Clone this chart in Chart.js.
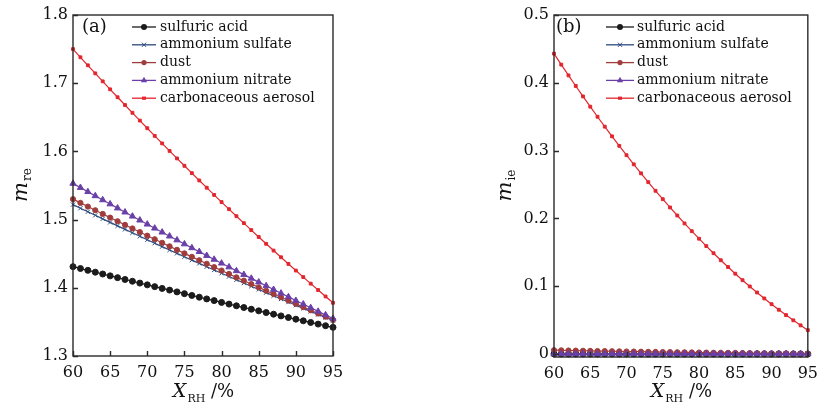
<!DOCTYPE html>
<html>
<head>
<meta charset="utf-8">
<script src="https://cdn.jsdelivr.net/npm/chart.js@4.4.1/dist/chart.umd.min.js"></script>
<style>
  html, body { margin: 0; padding: 0; background: #fff; }
  #wrap { position: relative; width: 825px; height: 406px; overflow: hidden; }
  .panel { position: absolute; top: 0; }
</style>
</head>
<body>
<div id="wrap">
  <div class="panel" style="left:0;width:412px;height:406px"><canvas id="chartA" width="412" height="406"></canvas></div>
  <div class="panel" style="left:412px;width:413px;height:406px"><canvas id="chartB" width="413" height="406"></canvas></div>
</div>
<script>
// relative humidity (%)
const rh = [60,61,62,63,64,65,66,67,68,69,70,71,72,73,74,75,76,77,78,79,80,81,82,83,84,85,86,87,88,89,90,91,92,93,94,95];
const xTicks = [60,65,70,75,80,85,90,95];
const reTicks = [1.3,1.4,1.5,1.6,1.7,1.8];
const imTicks = [0,0.1,0.2,0.3,0.4,0.5];

const names = ['sulfuric acid','ammonium sulfate','dust','ammonium nitrate','carbonaceous aerosol'];

// (a) real part m_re
const reSulfuric   = [1.4310,1.4283,1.4256,1.4229,1.4202,1.4175,1.4149,1.4122,1.4096,1.4069,1.4043,1.4017,1.3991,1.3966,1.3940,1.3914,1.3888,1.3862,1.3837,1.3812,1.3786,1.3761,1.3736,1.3711,1.3686,1.3662,1.3637,1.3613,1.3588,1.3564,1.3540,1.3516,1.3492,1.3468,1.3444,1.3420];
const reAmmSulfate = [1.5220,1.5167,1.5115,1.5063,1.5011,1.4959,1.4908,1.4857,1.4806,1.4755,1.4704,1.4654,1.4604,1.4554,1.4505,1.4455,1.4406,1.4358,1.4309,1.4261,1.4213,1.4165,1.4117,1.4070,1.4023,1.3976,1.3929,1.3883,1.3836,1.3791,1.3745,1.3699,1.3654,1.3609,1.3565,1.3520];
const reDust       = [1.5300,1.5245,1.5191,1.5137,1.5083,1.5029,1.4976,1.4923,1.4870,1.4817,1.4764,1.4712,1.4660,1.4608,1.4557,1.4505,1.4454,1.4404,1.4353,1.4303,1.4253,1.4203,1.4153,1.4104,1.4055,1.4006,1.3957,1.3909,1.3861,1.3813,1.3765,1.3717,1.3670,1.3623,1.3577,1.3530];
const reAmmNitrate = [1.5530,1.5469,1.5408,1.5348,1.5288,1.5228,1.5168,1.5109,1.5049,1.4991,1.4932,1.4873,1.4815,1.4757,1.4700,1.4642,1.4585,1.4529,1.4472,1.4416,1.4360,1.4304,1.4248,1.4193,1.4138,1.4083,1.4029,1.3974,1.3920,1.3867,1.3813,1.3760,1.3707,1.3654,1.3602,1.3550];
const reCarbon     = [1.7500,1.7380,1.7262,1.7144,1.7027,1.6910,1.6794,1.6680,1.6566,1.6452,1.6340,1.6228,1.6117,1.6007,1.5897,1.5789,1.5681,1.5574,1.5468,1.5362,1.5257,1.5153,1.5050,1.4948,1.4846,1.4745,1.4645,1.4546,1.4448,1.4350,1.4253,1.4157,1.4061,1.3967,1.3873,1.3780];

// (b) imaginary part m_ie
const imSulfuric   = [0,0,0,0,0,0,0,0,0,0,0,0,0,0,0,0,0,0,0,0,0,0,0,0,0,0,0,0,0,0,0,0,0,0,0,0];
const imAmmSulfate = [0,0,0,0,0,0,0,0,0,0,0,0,0,0,0,0,0,0,0,0,0,0,0,0,0,0,0,0,0,0,0,0,0,0,0,0];
const imDust       = [0.0055,0.0053,0.0051,0.0049,0.0047,0.0045,0.0043,0.0042,0.0040,0.0038,0.0036,0.0035,0.0033,0.0031,0.0030,0.0028,0.0027,0.0025,0.0024,0.0022,0.0021,0.0020,0.0018,0.0017,0.0016,0.0015,0.0014,0.0012,0.0011,0.0010,0.0009,0.0008,0.0007,0.0006,0.0005,0.0004];
const imAmmNitrate = [0,0,0,0,0,0,0,0,0,0,0,0,0,0,0,0,0,0,0,0,0,0,0,0,0,0,0,0,0,0,0,0,0,0,0,0];
const imCarbon     = [0.4430,0.4268,0.4109,0.3953,0.3799,0.3648,0.3499,0.3353,0.3210,0.3070,0.2932,0.2797,0.2664,0.2534,0.2407,0.2283,0.2161,0.2042,0.1925,0.1811,0.1700,0.1591,0.1486,0.1382,0.1282,0.1184,0.1088,0.0996,0.0906,0.0819,0.0734,0.0652,0.0573,0.0496,0.0422,0.0351];

const colors  = ['#1b1b1b','#2c4b7e','#a13c3c','#6a40a8','#e2262e'];
const markers = ['circle','crossRot','circle','triangle','rect'];
const sizes   = [3,3,2.6,3.6,2];

const SERIF = '"DejaVu Serif", serif';

function drawMarker(ctx, style, x, y, r, color) {
  ctx.fillStyle = color;
  ctx.strokeStyle = color;
  ctx.beginPath();
  if (style === 'circle') {
    ctx.arc(x, y, r, 0, Math.PI * 2);
    ctx.fill();
  } else if (style === 'triangle') {
    ctx.moveTo(x, y - r);
    ctx.lineTo(x + r * 0.87, y + r * 0.5);
    ctx.lineTo(x - r * 0.87, y + r * 0.5);
    ctx.closePath();
    ctx.fill();
  } else if (style === 'crossRot') {
    ctx.lineWidth = 1;
    ctx.moveTo(x - r * 0.7, y - r * 0.7); ctx.lineTo(x + r * 0.7, y + r * 0.7);
    ctx.moveTo(x + r * 0.7, y - r * 0.7); ctx.lineTo(x - r * 0.7, y + r * 0.7);
    ctx.stroke();
  } else {
    ctx.fillRect(x - r, y - r * 0.8, r * 2, r * 1.6);
  }
}

// frame, inward ticks, panel letter, legend and axis titles
function panelPlugin(cfg) {
  return {
    id: 'panel',
    afterDatasetsDraw(chart) {
      const { ctx, chartArea: a, scales } = chart;
      ctx.save();
      ctx.strokeStyle = '#2a2a2a';
      ctx.lineWidth = 1.4;
      ctx.strokeRect(a.left, a.top, a.right - a.left, a.bottom - a.top);
      ctx.beginPath();
      scales.y.ticks.forEach(t => {
        const py = Math.round(scales.y.getPixelForValue(t.value)) + 0.5;
        ctx.moveTo(a.left, py); ctx.lineTo(a.left + 5, py);
      });
      scales.x.ticks.forEach(t => {
        const px = Math.round(scales.x.getPixelForValue(t.value)) + 0.5;
        ctx.moveTo(px, a.bottom); ctx.lineTo(px, a.bottom - 5);
      });
      ctx.stroke();

      ctx.fillStyle = '#111';
      ctx.textBaseline = 'middle';
      ctx.textAlign = 'left';
      ctx.font = '18px ' + SERIF;
      ctx.fillText(cfg.letter, cfg.letterX, 27);

      ctx.font = '14px ' + SERIF;
      names.forEach((n, i) => {
        const yy = cfg.legendY + i * 17.8;
        ctx.strokeStyle = colors[i];
        ctx.lineWidth = 1.3;
        ctx.beginPath();
        ctx.moveTo(cfg.lineX0, yy); ctx.lineTo(cfg.lineX1, yy);
        ctx.stroke();
        drawMarker(ctx, markers[i], (cfg.lineX0 + cfg.lineX1) / 2, yy, sizes[i], colors[i]);
        ctx.fillStyle = '#111';
        ctx.fillText(n, cfg.textX, yy);
      });

      // y title
      ctx.save();
      ctx.translate(cfg.yTitleX, (a.top + a.bottom) / 2);
      ctx.rotate(-Math.PI / 2);
      ctx.textBaseline = 'alphabetic';
      ctx.font = 'italic 21px ' + SERIF;
      const wm = ctx.measureText('m').width;
      ctx.font = '12px ' + SERIF;
      const ws = ctx.measureText(cfg.ySub).width;
      let sx = -(wm + ws) / 2;
      ctx.font = 'italic 21px ' + SERIF;
      ctx.fillText('m', sx, 0);
      ctx.font = '12px ' + SERIF;
      ctx.fillText(cfg.ySub, sx + wm + 1, 4);
      ctx.restore();

      // x title
      ctx.textBaseline = 'alphabetic';
      ctx.font = 'italic 19px ' + SERIF;
      const wx = ctx.measureText('X').width;
      ctx.font = '11px ' + SERIF;
      const wr = ctx.measureText('RH').width;
      ctx.font = '18px ' + SERIF;
      const wp = ctx.measureText(' /%').width;
      let tx = (a.left + a.right) / 2 - (wx + wr + wp) / 2;
      const by = 397;
      ctx.font = 'italic 19px ' + SERIF;
      ctx.fillText('X', tx, by);
      ctx.font = '11px ' + SERIF;
      ctx.fillText('RH', tx + wx + 1, by + 5);
      ctx.font = '18px ' + SERIF;
      ctx.fillText(' /%', tx + wx + wr + 1, by);
      ctx.restore();
    }
  };
}

function makeChart(id, values, cfg) {
  const datasets = names.map((name, i) => ({
    label: name,
    data: rh.map((x, k) => ({ x: x, y: values[i][k] })),
    borderColor: colors[i],
    backgroundColor: colors[i],
    borderWidth: 1.2,
    pointStyle: markers[i],
    pointRadius: sizes[i],
    pointHoverRadius: sizes[i],
    pointBorderWidth: 1,
    order: names.length - 1 - i,
    clip: false,
    tension: 0
  }));
  const tickFont = { family: SERIF, size: 16 };
  return new Chart(document.getElementById(id), {
    type: 'line',
    data: { datasets },
    options: {
      responsive: false,
      animation: false,
      events: [],
      layout: { padding: cfg.padding },
      plugins: { legend: { display: false }, tooltip: { enabled: false } },
      scales: {
        x: {
          type: 'linear', min: 60, max: 95,
          afterBuildTicks: s => { s.ticks = xTicks.map(v => ({ value: v })); },
          afterFit: s => { s.height = cfg.xh; },
          grid: { display: false, drawTicks: false },
          border: { display: false },
          ticks: { font: tickFont, color: '#111', padding: 7, maxRotation: 0, autoSkip: false, callback: v => String(v) }
        },
        y: {
          type: 'linear', min: cfg.ymin, max: cfg.ymax,
          afterBuildTicks: s => { s.ticks = cfg.yTicks.map(v => ({ value: v })); },
          afterFit: s => { s.width = cfg.yw; },
          grid: { display: false, drawTicks: false },
          border: { display: false },
          ticks: { font: tickFont, color: '#111', padding: 5, autoSkip: false, callback: cfg.fmt }
        }
      }
    },
    plugins: [panelPlugin(cfg)]
  });
}

makeChart('chartA', [reSulfuric, reAmmSulfate, reDust, reAmmNitrate, reCarbon], {
  padding: { top: 15, right: 79, left: 0, bottom: 0 },
  xh: 50, yw: 73,
  ymin: 1.3, ymax: 1.8, yTicks: reTicks,
  fmt: v => v.toFixed(1),
  letter: '(a)', letterX: 82,
  legendY: 27, lineX0: 132, lineX1: 156, textX: 160,
  ySub: 're', yTitleX: 27
});

makeChart('chartB', [imSulfuric, imAmmSulfate, imDust, imAmmNitrate, imCarbon], {
  padding: { top: 15, right: 10, left: 0, bottom: 0 },
  xh: 49, yw: 142,
  ymin: -0.0045, ymax: 0.5, yTicks: imTicks,
  fmt: v => (v === 0 ? '0' : v.toFixed(1)),
  letter: '(b)', letterX: 144,
  legendY: 27, lineX0: 194, lineX1: 222, textX: 225,
  ySub: 'ie', yTitleX: 99
});
</script>
</body>
</html>
